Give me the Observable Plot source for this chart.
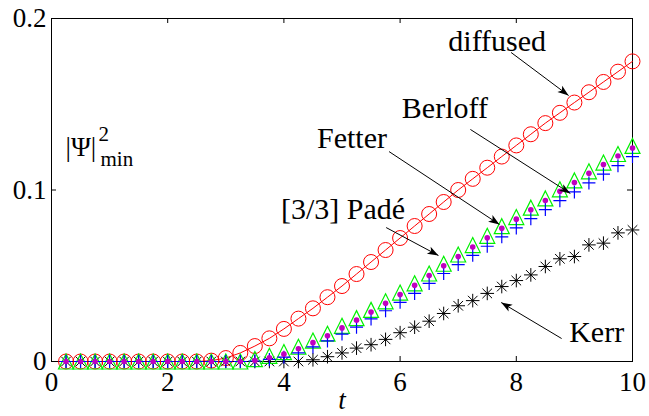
<!DOCTYPE html>
<html><head><meta charset="utf-8">
<script src="https://cdn.jsdelivr.net/npm/d3@7"></script>
<script src="https://cdn.jsdelivr.net/npm/@observablehq/plot@0.6"></script>
<style>
body{margin:0;background:#fff}
#chart svg, #chart svg text { font-family: "Liberation Serif", "Times New Roman", serif !important; }
</style>
</head><body><div id="chart"></div>
<script>
// ---- data ----
const t = [0.25,0.5,0.75,1,1.25,1.5,1.75,2,2.25,2.5,2.75,3,3.25,3.5,3.75,4,4.25,4.5,4.75,5,
           5.25,5.5,5.75,6,6.25,6.5,6.75,7,7.25,7.5,7.75,8,8.25,8.5,8.75,9,9.25,9.5,9.75,10];
const diffused = [0,0,0,0,0,0,0,0,0,0,0.0005,0.002,0.005,0.009,0.0135,0.019,0.025,0.031,0.0375,0.044,
           0.051,0.058,0.065,0.072,0.079,0.086,0.093,0.100,0.1065,0.113,0.1195,0.126,0.1325,0.139,0.145,0.151,0.157,0.163,0.169,0.175];
const fetter = [0,0,0,0,0,0,0,0,0,0,0,0,0,0.0014,0.0033,0.0055,0.0086,0.0122,0.0162,0.0208,
           0.0253,0.0301,0.0351,0.0402,0.0456,0.0513,0.057,0.0624,0.0679,0.0733,0.0789,0.0842,0.0897,0.0951,0.1004,0.1056,0.1109,0.116,0.121,0.1257];
const pade = [0,0,0,0,0,0,0,0,0,0,0,0,0,0.0006,0.0022,0.0043,0.0074,0.011,0.015,0.0196,
           0.0241,0.0289,0.0339,0.039,0.0444,0.0501,0.0558,0.0612,0.0667,0.0721,0.0777,0.083,0.0885,0.0939,0.0992,0.1044,0.1097,0.1148,0.1198,0.1245];
const berloff = [0,0,0,0,0,0,0,0,0,0,0,0,0,0.0003,0.0012,0.0025,0.005,0.0085,0.012,0.016,
           0.020,0.0248,0.0296,0.0345,0.0397,0.0455,0.0513,0.0565,0.0619,0.0672,0.0727,0.0779,0.0833,0.0886,0.0938,0.0989,0.1041,0.1092,0.1142,0.1195];
const kerr = [0,0,0,0,0,0,0,0,0,0,0,0,0,0,0,0,0,0.001,0.0028,0.005,
           0.0078,0.0098,0.0129,0.0168,0.02,0.0235,0.028,0.0325,0.0355,0.0397,0.0437,0.0472,0.0505,0.0554,0.0599,0.0612,0.068,0.069,0.075,0.0767];

const xTicks = [0,2,4,6,8,10];
const xTickLabels = ["0","2","4","6","8","10"];
const yTicks = [0,0.1,0.2];
const yTickLabels = ["0","0.1","0.2"];
const xLabel = ["t"];
const yLabelMain = ["|Ψ|"], yLabelSup = ["2"], yLabelSub = ["min"];

// annotations (anchored in data units)
const noteText = ["diffused","Berloff","Fetter","[3/3] Padé","Kerr"];
const noteT = [6.83,6.03,4.57,3.95,8.91];
const noteV = [0.1813,0.1417,0.1242,0.0828,0.0111];
const arrowT1 = [7.91,7.21,5.81,5.76,8.78];
const arrowV1 = [0.1802,0.1353,0.1224,0.0781,0.0134];
const arrowT2 = [8.90,8.93,7.71,6.66,7.74];
const arrowV2 = [0.1551,0.0980,0.0799,0.0618,0.0344];

// ---- layout ----
const W = 649, H = 416, mL = 51, mR = 17, mT = 18, mB = 55;
const xDomain = [0,10], yDomain = [0,0.2];
const plotW = W - mL - mR, plotH = H - mT - mB;
const kx = plotW / (xDomain[1]-xDomain[0]), ky = plotH / (yDomain[1]-yDomain[0]);
const tickLen = 5;
const serif = "Liberation Serif";

const rows = (vals) => t.map((tt,i) => ({t: tt, v: vals[i]}));

const triSym = {draw(c){ c.moveTo(0,-7.5); c.lineTo(7.5,7.5); c.lineTo(-7.5,7.5); c.closePath(); }};
const plusSym = {draw(c){ c.moveTo(-6.5,0); c.lineTo(6.5,0); c.moveTo(0,-6.5); c.lineTo(0,6.5); }};
const starSym = {draw(c){ const d=4.8;
  c.moveTo(-6.8,0); c.lineTo(6.8,0); c.moveTo(0,-6.8); c.lineTo(0,6.8);
  c.moveTo(-d,-d); c.lineTo(d,d); c.moveTo(-d,d); c.lineTo(d,-d); }};
function headSym(i){
  const dx = (arrowT2[i]-arrowT1[i])*kx, dy = -(arrowV2[i]-arrowV1[i])*ky;
  const len = Math.hypot(dx,dy), ux = dx/len, uy = dy/len, px = -uy, py = ux;
  const L = 11, w = 4;
  return {draw(c){
    c.moveTo(0,0);
    c.lineTo(-L*ux + w*px, -L*uy + w*py);
    c.lineTo(-0.75*L*ux, -0.75*L*uy);
    c.lineTo(-L*ux - w*px, -L*uy - w*py);
    c.closePath();
  }};
}
const idx = d3.range(noteText.length);

const marks = [
  Plot.frame({stroke:"black", strokeWidth:1}),
  Plot.ruleX(xTicks, {x:d=>d, insetTop: plotH - tickLen, stroke:"black"}),
  Plot.ruleX(xTicks, {x:d=>d, insetBottom: plotH - tickLen, stroke:"black"}),
  Plot.ruleY(yTicks, {y:d=>d, insetRight: plotW - tickLen, stroke:"black"}),
  Plot.ruleY(yTicks, {y:d=>d, insetLeft: plotW - tickLen, stroke:"black"}),
  Plot.line(rows(diffused), {x:"t", y:"v", stroke:"#ff0000", strokeWidth:1}),
  Plot.dot(rows(diffused), {x:"t", y:"v", r:7.5, stroke:"#ff0000", fill:"none", strokeWidth:1}),
  Plot.dot(rows(kerr), {x:"t", y:"v", symbol:starSym, stroke:"#000", fill:"none", strokeWidth:1}),
  Plot.dot(rows(fetter), {x:"t", y:"v", symbol:triSym, stroke:"#00f000", fill:"none", strokeWidth:1.2}),
  Plot.dot(rows(berloff), {x:"t", y:"v", symbol:plusSym, stroke:"#0000ff", fill:"none", strokeWidth:1.2}),
  Plot.dot(rows(pade), {x:"t", y:"v", r:2.8, fill:"#c000c0", stroke:"none"}),
  Plot.link(idx, {x1:i=>arrowT1[i], y1:i=>arrowV1[i], x2:i=>arrowT2[i], y2:i=>arrowV2[i], stroke:"black", strokeWidth:1}),
  ...idx.map(i => Plot.dot([i], {x:j=>arrowT2[j], y:j=>arrowV2[j], symbol:headSym(i), fill:"black", stroke:"none"})),
  Plot.text(idx, {x:i=>noteT[i], y:i=>noteV[i], text:i=>noteText[i], textAnchor:"start", lineAnchor:"bottom", fontSize:30, fontFamily:serif, fill:"black"}),
  Plot.text(yLabelMain, {text:d=>d, frameAnchor:"top-left", dx:14, dy:137, textAnchor:"start", lineAnchor:"bottom", fontSize:27, fontFamily:serif, fill:"black"}),
  Plot.text(yLabelSup, {text:d=>d, frameAnchor:"top-left", dx:47, dy:122, textAnchor:"start", lineAnchor:"bottom", fontSize:21, fontFamily:serif, fill:"black"}),
  Plot.text(yLabelSub, {text:d=>d, frameAnchor:"top-left", dx:49, dy:147, textAnchor:"start", lineAnchor:"bottom", fontSize:21, fontFamily:serif, fill:"black"}),
  Plot.text(xLabel, {text:d=>d, frameAnchor:"bottom", dy:47, lineAnchor:"bottom", fontStyle:"italic", fontSize:27, fontFamily:serif, fill:"black"})
];

const chart = Plot.plot({
  width: W, height: H,
  marginLeft: mL, marginRight: mR, marginTop: mT, marginBottom: mB,
  style: {fontFamily: serif, fontSize: "27px", color: "black", background: "white", overflow: "visible"},
  x: {domain: xDomain, ticks: xTicks, tickFormat: d => xTickLabels[xTicks.indexOf(d)], tickSize: 0, tickPadding: 10, label: null},
  y: {domain: yDomain, ticks: yTicks, tickFormat: d => yTickLabels[yTicks.indexOf(d)], tickSize: 0, tickPadding: 5, label: null},
  marks
});
chart.querySelectorAll("text, g").forEach(el => { el.setAttribute("font-family", serif); el.style.fontFamily = serif; });
document.getElementById("chart").appendChild(chart);
</script>
</body></html>
